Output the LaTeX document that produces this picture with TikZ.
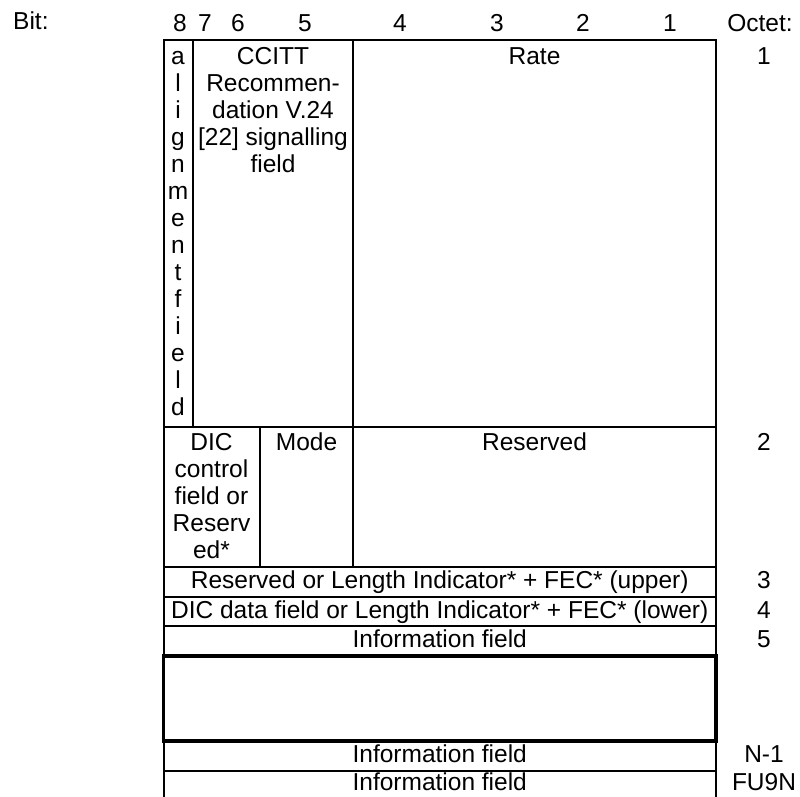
\documentclass[tikz,border=0pt]{standalone}
\usepackage{fontspec}
\setmainfont{Liberation Sans}
\begin{document}
\begin{tikzpicture}[x=1pt,y=-1pt,
  txt/.style={inner sep=0pt, anchor=base, font=\fontsize{24.5}{27}\selectfont},
  rule/.style={line width=2pt, line cap=rect},
  gapbox/.style={line width=3.6pt}]
\useasboundingbox (0,0) rectangle (800,796);
\clip (0,0) rectangle (800,796);
% header
\node[txt, anchor=base west] (bit) at (13,29) {Bit:};
\foreach \b/\x in {8/180,7/205,6/238,5/305,4/400,3/497,2/583,1/670}
  \node[txt] (b\b) at (\x,31.5) {\b};
\node[txt] (octet) at (760,31.5) {Octet:};
% table frame
\draw[rule] (163.5,656) -- (163.5,40) -- (716,40) -- (716,656);
\draw[rule] (163.5,741) -- (163.5,805);
\draw[rule] (716,741) -- (716,805);
\foreach \y in {427,567,597,626,771}
  \draw[rule] (163.5,\y) -- (716,\y);
\draw[rule] (193,40) -- (193,427);
\draw[rule] (353,40) -- (353,567);
\draw[rule] (260,427) -- (260,567);
\draw[gapbox] (163.5,656) rectangle (716,741);
% row 1
\foreach \c [count=\i from 0] in {a,l,i,g,n,m,e,n,t,f,i,e,l,d}
  \node[txt] (al\i) at (178,64+27*\i) {\c};
\foreach \t [count=\i from 0] in {CCITT,Recommen-,dation V.24,[22] signalling,field}
  \node[txt] (cc\i) at (273,64+27*\i) {\t};
\node[txt] (rate) at (534.5,64) {Rate};
% row 2
\foreach \t [count=\i from 0] in {DIC,control,field or,Reserv,ed*}
  \node[txt] (dic\i) at (211.5,450.5+27*\i) {\t};
\node[txt] (mode) at (306.5,450.5) {Mode};
\node[txt] (res) at (534.5,450.5) {Reserved};
% rows 3..
\node[txt] (r3) at (439.75,588.5) {Reserved or Length Indicator* + FEC* (upper)};
\node[txt] (r4) at (439.75,618.5) {DIC data field or Length Indicator* + FEC* (lower)};
\node[txt] (r5) at (439.75,647.5) {Information field};
\node[txt] (rn1) at (439.75,762.5) {Information field};
\node[txt] (rn) at (439.75,790) {Information field};
% octet numbers
\node[txt] (o1) at (764,64) {1};
\node[txt] (o2) at (764,450.5) {2};
\node[txt] (o3) at (764,588.5) {3};
\node[txt] (o4) at (764,618.5) {4};
\node[txt] (o5) at (764,647.5) {5};
\node[txt] (on1) at (764,762.5) {N-1};
\node[txt] (on) at (764,790) {FU9N};
\end{tikzpicture}
\end{document}
